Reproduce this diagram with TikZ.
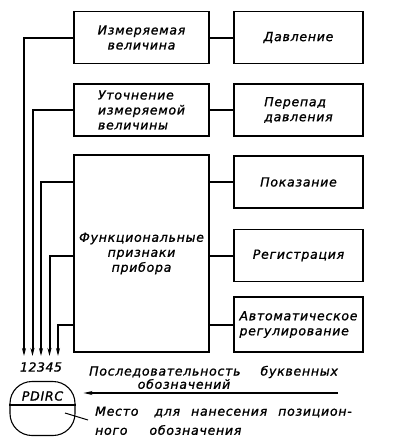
\documentclass[tikz,border=0pt]{standalone}
\usepackage{fontspec}
\newfontfamily\gost[LetterSpace=6,FakeBold=1.2]{DejaVu Sans}
\usetikzlibrary{arrows.meta}
\tikzset{
  lbl/.style={font=\gost\itshape\fontsize{12.5}{15}\selectfont, inner sep=0pt},
  blk/.style={lbl, draw, line width=1.1pt, minimum width=#1},
  blk/.default=129pt,
  lnk/.style={line width=2pt},
  arr/.style={lnk, -{Stealth[length=8pt,width=4pt]}}
}
\begin{document}
\begin{tikzpicture}[x=1pt,y=-1pt]
\useasboundingbox (0,0) rectangle (401,445);
% left column
\node[blk=135pt, minimum height=52pt, align=center] (mv) at (141.5,37.5) {Измеряемая\\величина};
\node[blk=135pt, minimum height=52pt, align=left] (ut) at (141.5,110) {Уточнение\\измеряемой\\величины};
\node[blk=135pt, minimum height=197pt, align=center] (fp) at (141.5,253.5) {Функциональные\\признаки\\прибора};
% right column
\node[blk, minimum height=52pt] (dv) at (298.5,37.5) {Давление};
\node[blk, minimum height=52pt, align=left] (pd) at (298.5,110) {Перепад\\давления};
\node[blk, minimum height=52pt] (pk) at (298.5,182) {Показание};
\node[blk, minimum height=52pt] (rg) at (298.5,255.5) {Регистрация};
\node[blk, minimum height=55pt, align=left] (ar) at (298.5,324.5) {Автоматическое\\регулирование};
\draw[lnk] (mv) -- (dv);
\draw[lnk] (ut) -- (pd);
\draw[lnk] (pk.west) -- (pk.west -| fp.east);
\draw[lnk] (rg.west) -- (rg.west -| fp.east);
\draw[lnk] (ar.west) -- (ar.west -| fp.east);
% sequence of letters
\foreach \i/\x in {1/24,2/32.5,3/41,4/49.5,5/58} {
\coordinate (e\i) at (\x,356);
\node[lbl] (n\i) at (\x,367) {\i};
}
\draw[arr] (mv.west) -| (e1);
\draw[arr] (ut.west) -| (e2);
\draw[arr] (fp.west |- pk.west) -| (e3);
\draw[arr] (fp.west |- rg.west) -| (e4);
\draw[arr] (fp.west |- ar.west) -| (e5);
\node[blk=65pt, minimum height=54pt, rounded corners=22pt] (pos) at (42.5,408.5) {};
\draw[line width=1.1pt] ([yshift=3.5pt]pos.west) -- ([yshift=3.5pt]pos.east);
\node[lbl] (pdirc) at (42.5,396) {PDIRC};
\node[lbl, anchor=west] (seq) at (89,372) {Последовательность\hspace{20pt}буквенных};
\node[lbl] (seq2) at (184,384) {обозначений};
\coordinate (sq) at (338,393);
\draw[lnk, line width=1.2pt, -{Stealth[length=9pt,width=4pt]}] (sq) -- ([xshift=8pt]pos.east |- sq);
\node[lbl, anchor=west] (mp) at (95,412) {Место\hspace{16pt}для\hspace{11pt}нанесения\hspace{11pt}позицион-};
\node[lbl, anchor=west] (mp2) at (95,430) {ного\hspace{22pt}обозначения};
\coordinate (pt) at (65,413);
\draw[line width=1pt] (pt) -- (88,420);
\end{tikzpicture}
\end{document}
